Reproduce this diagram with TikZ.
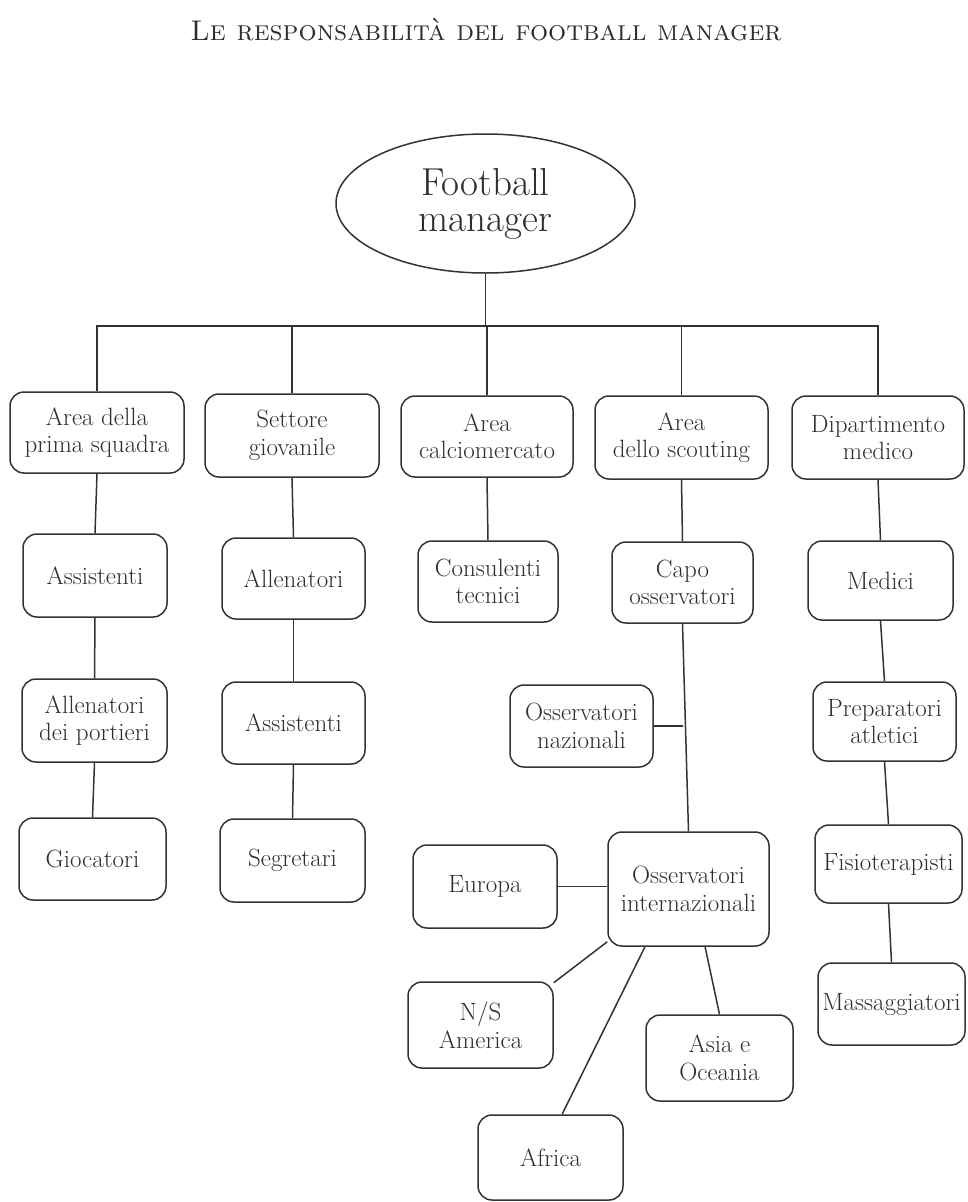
\documentclass[tikz,border=0pt]{standalone}
\usetikzlibrary{shapes.geometric}
\definecolor{ink}{rgb}{0.2,0.2,0.2}
\definecolor{txt}{rgb}{0.18,0.18,0.18}
\begin{document}
\begin{tikzpicture}[x=1pt,y=-1pt,
  line/.style={draw=ink,line width=1.5pt},
  box/.style={draw=ink,line width=1.5pt,rounded corners=14pt,align=center,
    inner sep=0pt,text=txt,font=\fontsize{25}{27.5}\selectfont},
  head/.style={draw=ink,line width=1.5pt,ellipse,inner sep=0pt,align=center,
    text=txt,font=\fontsize{39}{36}\selectfont,minimum width=299pt,minimum height=139pt}]
\useasboundingbox[fill=white] (0,0) rectangle (968,1202);

% heading
\node[text=txt,font=\fontsize{28.5}{32}\selectfont] (title) at (486,30)
  {\textsc{Le responsabilità del football manager}};

% root
\node[head] (fm) at (485.5,203.5) {Football\\manager};

% first level
\node[box,minimum width=174pt,minimum height=81pt] (a1) at (97,432.5) {Area della\\prima squadra};
\node[box,minimum width=174pt,minimum height=83pt] (a2) at (292,435.5) {Settore\\giovanile};
\node[box,minimum width=172pt,minimum height=81pt] (a3) at (487,436.5) {Area\\calciomercato};
\node[box,minimum width=173pt,minimum height=83pt] (a4) at (681.5,437.5) {Area\\dello scouting};
\node[box,minimum width=172pt,minimum height=83pt] (a5) at (878,437.5) {Dipartimento\\medico};

% second level
\node[box,minimum width=144pt,minimum height=83pt] (b1) at (95,575.5) {Assistenti};
\node[box,minimum width=143pt,minimum height=81pt] (b2) at (293.5,578.5) {Allenatori};
\node[box,minimum width=140pt,minimum height=81pt] (b3) at (488,581.5) {Consulenti\\tecnici};
\node[box,minimum width=141pt,minimum height=81pt] (b4) at (682.5,582.5) {Capo\\osservatori};
\node[box,minimum width=145pt,minimum height=79pt] (b5) at (880.5,580.5) {Medici};

% third level
\node[box,minimum width=145pt,minimum height=83pt] (c1) at (94.5,720.5) {Allenatori\\dei portieri};
\node[box,minimum width=143pt,minimum height=82pt] (c2) at (293.5,723) {Assistenti};
\node[box,minimum width=143pt,minimum height=82pt] (c4) at (581.5,726) {Osservatori\\nazionali};
\node[box,minimum width=143pt,minimum height=79pt] (c5) at (884.5,721.5) {Preparatori\\atletici};

% fourth level
\node[box,minimum width=147pt,minimum height=82pt] (d1) at (92.5,859) {Giocatori};
\node[box,minimum width=145pt,minimum height=83pt] (d2) at (292.5,860.5) {Segretari};
\node[box,minimum width=144pt,minimum height=83pt] (d3) at (485,886.5) {Europa};
\node[box,minimum width=161pt,minimum height=114pt] (d4) at (688.5,889) {Osservatori\\internazionali};
\node[box,minimum width=147pt,minimum height=78pt] (d5) at (888.5,864) {Fisioterapisti};

% fifth level
\node[box,minimum width=145pt,minimum height=86pt] (e1) at (480.5,1025) {N/S\\America};
\node[box,minimum width=147pt,minimum height=86pt] (e2) at (719.5,1058) {Asia e\\Oceania};
\node[box,minimum width=145pt,minimum height=85pt] (e3) at (550.5,1157.5) {Africa};
\node[box,minimum width=147pt,minimum height=82pt] (e4) at (891.5,1004) {Massaggiatori};

% distribution bar under the root
\coordinate (bar) at (486,326);
\draw[line] (fm.south) -- (fm.south |- bar);
\draw[line] (a1.north) |- (a5.north |- bar) -- (a5.north);
\draw[line] (a2.north) -- (a2.north |- bar);
\draw[line] (a3.north) -- (a3.north |- bar);
\draw[line] (a4.north) -- (a4.north |- bar);

% columns
\draw[line] (a1.south) -- (b1.north);
\draw[line] (b1.south) -- (c1.north);
\draw[line] (c1.south) -- (d1.north);

\draw[line] (a2.south) -- (b2.north);
\draw[line] (b2.south) -- (c2.north);
\draw[line] (c2.south) -- (d2.north);

\draw[line] (a3.south) -- (b3.north);

\draw[line] (a4.south) -- (b4.north);
\draw[line] (b4.south) -- (d4.north);
\draw[line] (c4.east) -- (c4.east -| b4.south);

\draw[line] (a5.south) -- (b5.north);
\draw[line] (b5.south) -- (c5.north);
\draw[line] (c5.south) -- (d5.north);
\draw[line] (d5.south) -- (e4.north);

% international scouting regions
\draw[line] (d3.east) -- (d3.east -| d4.west);
\draw[line] (d4.213) -- (e1.30);
\draw[line] (d4.233) -- (e3.75);
\draw[line] (d4.286) -- (e2.north);
\end{tikzpicture}
\end{document}
